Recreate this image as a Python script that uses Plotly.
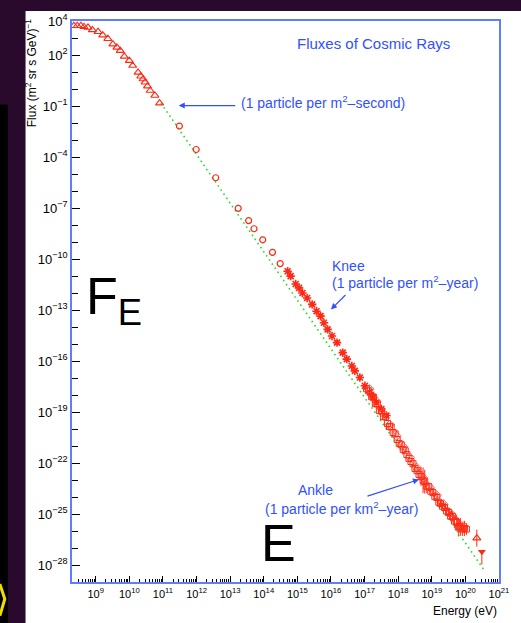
import numpy as np
import plotly.graph_objects as go

# ---- data: log10(energy / eV) and log10(flux / (m^2 sr s GeV)^-1) ----
tri_logE = [8.35, 8.45, 8.56, 8.65, 8.77, 8.90, 9.07, 9.21, 9.36, 9.51, 9.63, 9.73,
            9.85, 10.00, 10.10, 10.26, 10.34, 10.41, 10.47, 10.54, 10.62, 10.76, 10.90]
tri_logF = [3.72, 3.72, 3.72, 3.66, 3.62, 3.48, 3.37, 3.17, 2.96, 2.64, 2.45, 2.26,
            1.92, 1.67, 1.38, 0.98, 0.75, 0.59, 0.40, 0.17, -0.09, -0.38, -0.83]

circ_logE = [11.49, 11.99, 12.57, 13.24, 13.55, 13.71, 13.97, 14.26, 14.49]
circ_logF = [-2.18, -3.56, -5.22, -7.02, -7.74, -8.22, -8.87, -9.61, -10.27]

star_logE = [14.71, 14.80, 14.95, 15.05, 15.15, 15.29, 15.44, 15.57, 15.69, 15.79, 15.90, 16.03,
             16.18, 16.35, 16.47, 16.62, 16.71, 16.86, 17.01, 17.16, 17.26, 17.35, 17.50, 17.65]
star_logF = [-10.72, -11.01, -11.47, -11.70, -12.00, -12.29, -12.67, -13.07, -13.36, -13.75, -14.14, -14.53,
             -14.92, -15.51, -15.89, -16.29, -16.58, -16.97, -17.46, -17.85, -18.14, -18.44, -18.82, -19.21]

band_logE = [17.06, 17.12, 17.21, 17.26, 17.32, 17.38, 17.44, 17.50, 17.56, 17.62, 17.68, 17.74,
             17.79, 17.85, 17.91, 17.97, 18.03, 18.09, 18.15, 18.21, 18.26, 18.32, 18.38, 18.44,
             18.50, 18.56, 18.62, 18.68, 18.74, 18.79, 18.85, 18.91, 18.97, 19.03, 19.09, 19.15,
             19.21, 19.26, 19.32, 19.38, 19.44, 19.50, 19.56, 19.62, 19.68, 19.74, 19.79, 19.85,
             19.91, 19.97, 20.03]
band_logF = [-17.63, -17.75, -18.10, -18.12, -18.51, -18.53, -18.92, -18.94, -19.27, -19.29, -19.68, -19.86,
             -19.88, -20.21, -20.29, -20.62, -20.85, -20.93, -21.20, -21.28, -21.51, -21.73, -21.91, -22.04,
             -22.32, -22.45, -22.67, -22.80, -23.02, -23.10, -23.37, -23.39, -23.66, -23.74, -23.96, -24.03,
             -24.31, -24.38, -24.54, -24.62, -24.83, -24.91, -25.13, -25.14, -25.42, -25.50, -25.77, -25.73,
             -25.89, -25.85, -25.89]
band_err = [0.05, 0.05, 0.05, 0.05, 0.05, 0.05, 0.05, 0.05, 0.05, 0.05, 0.05, 0.06,
            0.06, 0.06, 0.06, 0.06, 0.07, 0.07, 0.07, 0.08, 0.08, 0.10, 0.10, 0.12,
            0.15, 0.20, 0.30, 0.55, 0.75, 0.70, 0.40, 0.25, 0.15, 0.15, 0.12, 0.12,
            0.15, 0.15, 0.18, 0.20, 0.20, 0.25, 0.30, 0.30, 0.35, 0.45, 0.55, 0.50,
            0.40, 0.45, 0.35]

band2_logE = [17.15, 17.35, 17.55, 17.75, 17.95, 18.15, 18.35, 18.55, 18.75, 18.95,
              19.15, 19.35, 19.55, 19.75, 19.95]
band2_logF = [-17.65, -18.37, -19.07, -19.75, -20.40, -21.05, -21.67, -22.27, -22.88, -23.45,
              -23.90, -24.43, -24.95, -25.45, -25.72]

high_logE = [20.34]
high_logF = [-26.42]
high_err = [0.50]

limit_logE = [20.49]
limit_logF = [-27.22]
limit_len = [0.75]

fit_logE = [10.94, 20.59]
fit_logF = [-0.83, -28.39]

x_decades = list(range(9, 22))
y_decades = list(range(-29, 5))
y_labelled = [4, 2, -1, -4, -7, -10, -13, -16, -19, -22, -25, -28]

RED = "rgb(255,40,20)"
PINK = "rgb(255,110,90)"
BLUE = "rgb(50,80,255)"
AXIS_BLUE = "rgb(95,125,255)"
GREEN = "rgb(40,220,40)"
FONT = "Liberation Sans, Arial, sans-serif"


def p10(v):
    return 10.0 ** np.asarray(v, dtype=float)


def sup(k):
    s = str(k).replace("-", "\u2212")
    return "10<sup>" + s + "</sup>"


def log_bars(F, dex):
    F = np.asarray(F)
    d = np.asarray(dex, dtype=float)
    return F * (10 ** d - 1), F * (1 - 10 ** -d)


fig = go.Figure()

fig.add_trace(go.Scatter(
    x=p10(fit_logE), y=p10(fit_logF), mode="lines",
    line=dict(color=GREEN, width=1.6, dash="1.6px,3.4px"), hoverinfo="skip"))

fig.add_trace(go.Scatter(
    x=p10(tri_logE), y=p10(tri_logF), mode="markers",
    marker=dict(symbol="triangle-up-open", size=7, color=RED, line=dict(width=1.1, color=RED))))

fig.add_trace(go.Scatter(
    x=p10(circ_logE), y=p10(circ_logF), mode="markers",
    marker=dict(symbol="circle-open", size=6, color=RED, line=dict(width=1.2, color=RED))))

fig.add_trace(go.Scatter(
    x=p10(star_logE), y=p10(star_logF), mode="markers",
    marker=dict(symbol="asterisk-open", size=7, color=RED, line=dict(width=1.6, color=RED))))

fig.add_trace(go.Scatter(
    x=p10(band2_logE), y=p10(band2_logF), mode="markers",
    marker=dict(symbol="diamond-open", size=7, color=PINK, line=dict(width=1, color=PINK))))

bF = p10(band_logF)
up, dn = log_bars(bF, band_err)
fig.add_trace(go.Scatter(
    x=p10(band_logE), y=bF, mode="markers",
    error_y=dict(type="data", symmetric=False, array=up, arrayminus=dn,
                 color=RED, thickness=1, width=0),
    marker=dict(symbol="square-open", size=6, color=RED, line=dict(width=1, color=RED))))

hF = p10(high_logF)
up, dn = log_bars(hF, high_err)
fig.add_trace(go.Scatter(
    x=p10(high_logE), y=hF, mode="markers",
    error_y=dict(type="data", symmetric=False, array=up, arrayminus=dn,
                 color=RED, thickness=1, width=0),
    marker=dict(symbol="triangle-up-open", size=7, color=RED, line=dict(width=1.1, color=RED))))

lF = p10(limit_logF)
_, dn = log_bars(lF, limit_len)
fig.add_trace(go.Scatter(
    x=p10(limit_logE), y=lF, mode="markers",
    error_y=dict(type="data", symmetric=False, array=[0], arrayminus=dn,
                 color=RED, thickness=1, width=0),
    marker=dict(symbol="triangle-down", size=7, color=RED)))

# pixel -> paper helpers for the plot frame (72..504 x 18..582)
L, R, T, B = 72, 504, 18, 582


def px(x):
    return (x - L) / (R - L)


def py(y):
    return (B - y) / (B - T)


annotations = [
    dict(text="Fluxes of Cosmic Rays", x=px(377), y=py(41), xanchor="center", yanchor="middle",
         font=dict(size=15, color=BLUE)),
    dict(text="(1 particle per m<sup>2</sup>\u2013second)", x=px(241), y=py(99), xanchor="left",
         yanchor="middle", font=dict(size=14, color=BLUE)),
    dict(text="Knee", x=px(333), y=py(264), xanchor="left", yanchor="middle",
         font=dict(size=14, color=BLUE)),
    dict(text="(1 particle per m<sup>2</sup>\u2013year)", x=px(333), y=py(280), xanchor="left",
         yanchor="middle", font=dict(size=14, color=BLUE)),
    dict(text="Ankle", x=px(299), y=py(490), xanchor="left", yanchor="middle",
         font=dict(size=14, color=BLUE)),
    dict(text="(1 particle per km<sup>2</sup>\u2013year)", x=px(265), y=py(508), xanchor="left",
         yanchor="middle", font=dict(size=14, color=BLUE)),
    dict(text="F<sub>E</sub>", x=px(84), y=py(298), xanchor="left", yanchor="middle",
         font=dict(size=52, color="black")),
    dict(text="E", x=px(261), y=py(543), xanchor="left", yanchor="middle", height=40,
         valign="middle", font=dict(size=52, color="black")),
    dict(text="Flux (m<sup>2</sup> sr s GeV)<sup>\u22121</sup>", x=px(30), y=py(70), textangle=-90,
         xanchor="center", yanchor="middle", font=dict(size=12, color="black")),
    dict(text="Energy (eV)", x=1.0, y=py(611), xanchor="right", yanchor="middle",
         font=dict(size=12, color="black")),
    # arrows
    dict(text="", x=px(180), y=py(103), ax=58, ay=0, showarrow=True, arrowhead=2,
         arrowsize=1, arrowwidth=1.2, arrowcolor=BLUE),
    dict(text="", x=px(334), y=py(308), ax=16, ay=-16, showarrow=True, arrowhead=2,
         arrowsize=1, arrowwidth=1.2, arrowcolor=BLUE),
    dict(text="", x=px(423), y=py(479), ax=-53, ay=17, showarrow=True, arrowhead=2,
         arrowsize=1, arrowwidth=1.2, arrowcolor=BLUE),
]
for a in annotations:
    a.setdefault("xref", "paper")
    a.setdefault("yref", "paper")
    a.setdefault("showarrow", False)

shapes = [
    # white slide panel
    dict(type="rect", xref="paper", yref="paper", x0=px(25), x1=px(530), y0=py(630), y1=py(8),
         fillcolor="white", line=dict(width=0), layer="below"),
    # dark strip at the far left
    dict(type="rect", xref="paper", yref="paper", x0=px(-5), x1=px(7), y0=py(630), y1=py(102),
         fillcolor="black", line=dict(width=0), layer="below"),
    # yellow chevron fragment
    dict(type="path", xref="paper", yref="paper",
         path=f"M {px(-1)} {py(584)} L {px(4)} {py(599)} L {px(-1)} {py(616)}",
         fillcolor="rgba(0,0,0,0)", line=dict(color="rgb(240,220,0)", width=3), layer="below"),
]

minor_x = [m * 10.0 ** k for k in range(8, 21) for m in range(2, 10)]
major_y = [10.0 ** k for k in y_labelled]
minor_y = [10.0 ** k for k in y_decades if k not in y_labelled]

fig.update_layout(
    width=521, height=623,
    margin=dict(l=L, r=521 - R, t=T, b=623 - B, pad=0),
    paper_bgcolor="rgb(42,10,44)", plot_bgcolor="white",
    showlegend=False,
    font=dict(family=FONT, color="black"),
    annotations=annotations, shapes=shapes,
    xaxis=dict(type="log", range=[8.294, 21.0], tickmode="array",
               tickvals=[10.0 ** k for k in x_decades], ticktext=[sup(k) for k in x_decades],
               ticks="inside", ticklen=6, tickwidth=1, tickcolor="black", ticklabelstandoff=1,
               minor=dict(tickmode="array", tickvals=minor_x, ticks="inside", ticklen=3,
                          tickwidth=1, tickcolor="black"),
               showline=True, linecolor=AXIS_BLUE, linewidth=1.5, mirror=True,
               showgrid=False, zeroline=False, tickfont=dict(size=11, color="black")),
    yaxis=dict(type="log", range=[-29.0, 4.0], tickmode="array",
               tickvals=major_y, ticktext=[sup(k) for k in y_labelled],
               ticks="inside", ticklen=8, tickwidth=1, tickcolor="black",
               minor=dict(tickmode="array", tickvals=minor_y, ticks="inside", ticklen=6,
                          tickwidth=1, tickcolor="black"),
               showline=True, linecolor=AXIS_BLUE, linewidth=1.5, mirror=True,
               showgrid=False, zeroline=False, tickfont=dict(size=13, color="black")),
)

fig.write_html("out.html")
